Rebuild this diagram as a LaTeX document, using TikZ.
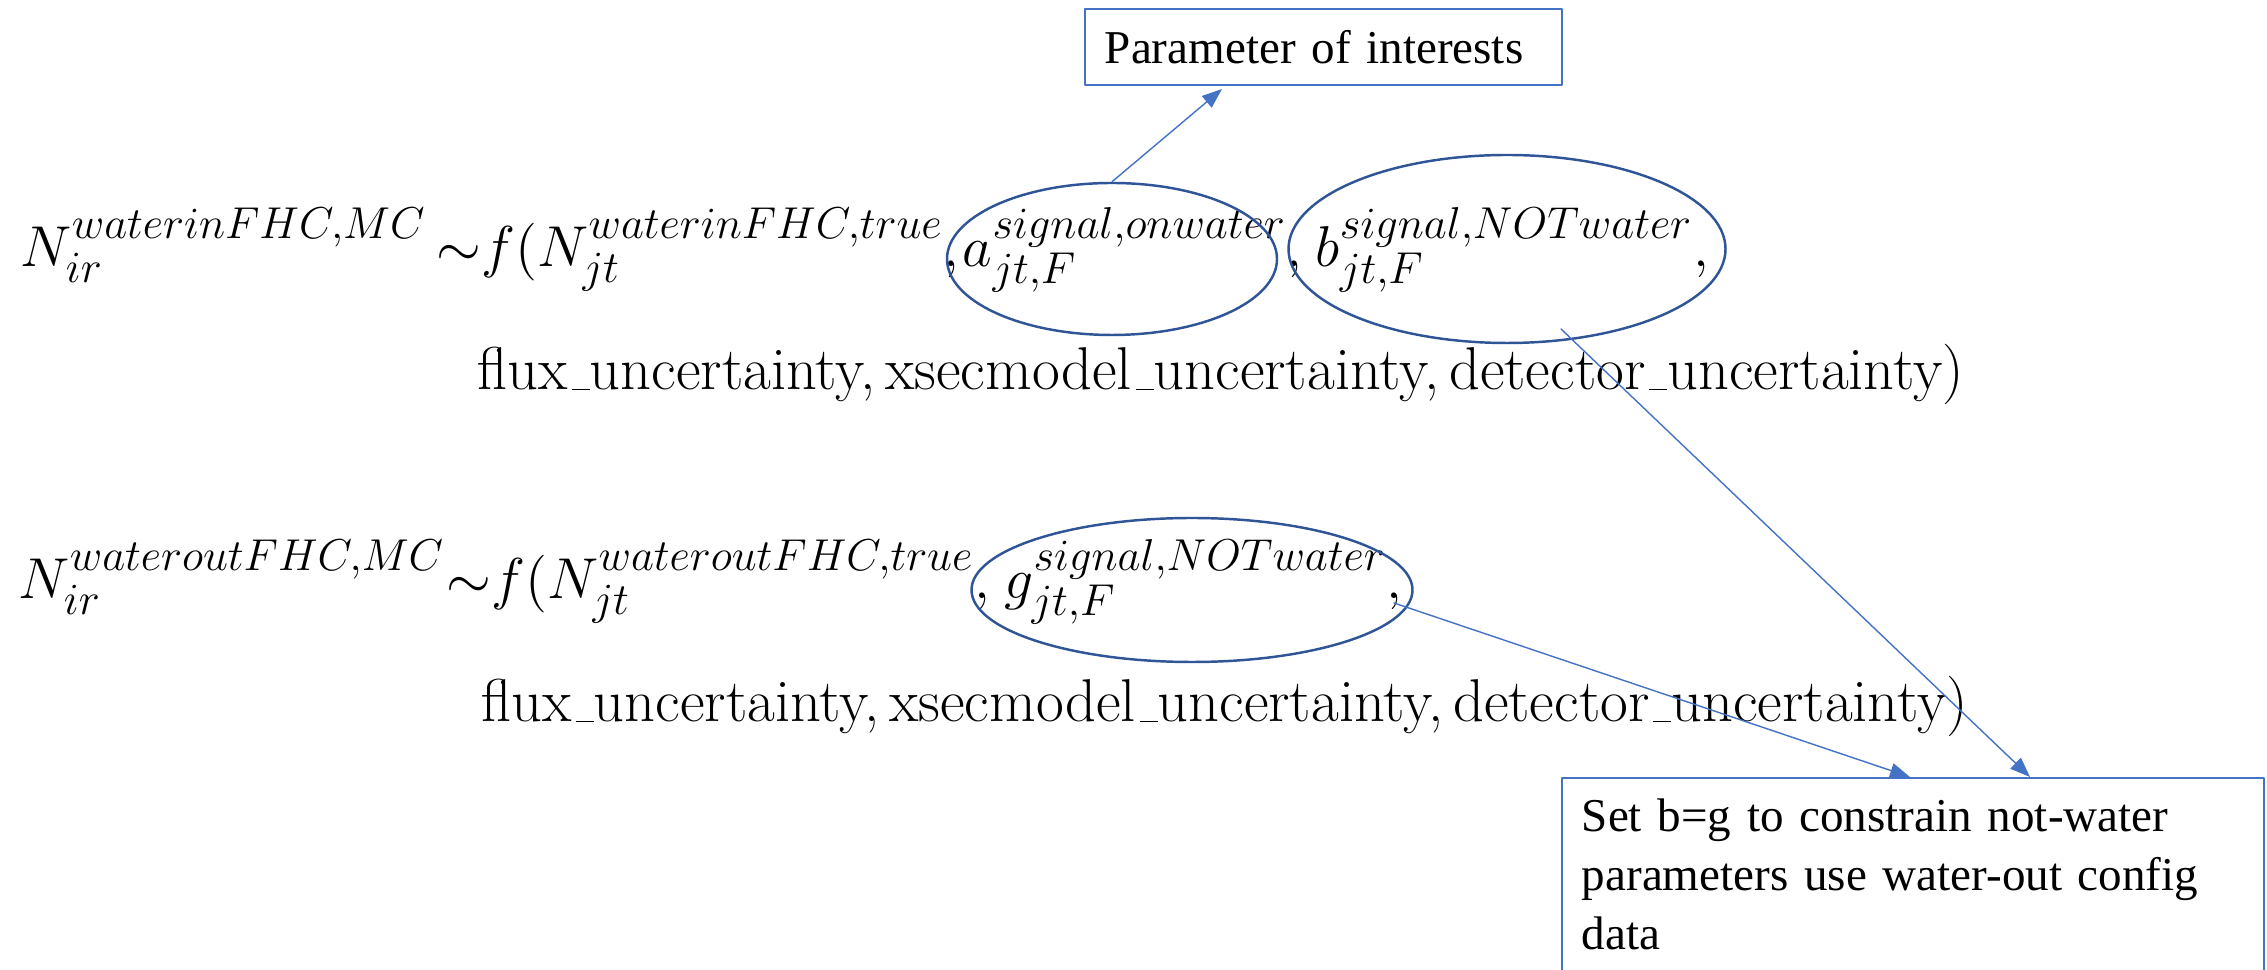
\RequirePackage{fix-cm}
\documentclass[tikz,border=0pt]{standalone}
\usepackage{fontspec}
\usetikzlibrary{arrows.meta,shapes.geometric}
\newfontfamily\boxfont{Liberation Serif}
\DeclareMathSizes{16.4}{16.4}{12.7}{10}
\newcommand\usc{\kern.06em\vbox{\hrule width.3em}}
\definecolor{arrowblue}{HTML}{4472C4}
\definecolor{ringblue}{HTML}{2F5597}
\begin{document}
\begin{tikzpicture}[line join=round, line cap=round, x=0.1mm, y=-0.1mm,
	eqn/.style={anchor=base west, inner sep=0pt, font=\fontsize{16.4}{20}\selectfont},
	unc/.style={anchor=base west, inner sep=0pt, font=\fontsize{17.2}{20}\selectfont},
	ring/.style={draw=ringblue, ellipse, line width=0.7pt, inner sep=0pt},
	note/.style={draw=arrowblue, line width=0.5pt, anchor=north west, align=left, inner xsep=2mm, inner ysep=6pt, font=\boxfont\fontsize{13.4}{16.8}\selectfont},
	link/.style={draw=arrowblue, line width=0.4pt, -{Triangle[length=2mm,width=1.5mm]}}]
	\clip (0,0) rectangle (2267,970);
	% water-in configuration
	\node[eqn] (Nin) at (20,267) {$N_{ir}^{waterinFHC,MC}$};
	\node[eqn] (fin) at (436,267) {${\sim}f(N_{jt}^{waterinFHC,true},$};
	\node[eqn] (aterm) at ([xshift=0.2mm]fin.base east) {$a_{jt,F}^{signal,onwater},$};
	\node[eqn] (bterm) at ([xshift=1.2mm]aterm.base east) {$b_{jt,F}^{signal,NOTwater},$};
	\node[unc] (uncin) at (477,390) {flux\usc uncertainty,\,xsecmodel\usc uncertainty,\,detector\usc uncertainty)};
	% water-out configuration
	\node[eqn] (Nout) at (18,599) {$N_{ir}^{wateroutFHC,MC}$};
	\node[eqn] (fout) at (446,599) {${\sim}f(N_{jt}^{wateroutFHC,true},$};
	\node[eqn] (gterm) at ([xshift=1.3mm]fout.base east) {$g_{jt,F}^{signal,NOTwater},$};
	\node[unc] (uncout) at (481,722) {flux\usc uncertainty,\,xsecmodel\usc uncertainty,\,detector\usc uncertainty)};
	% rings round the parameters
	\node[ring, minimum width=33mm, minimum height=15.2mm] (ringa) at (1112,259) {};
	\node[ring, minimum width=43.7mm, minimum height=18.8mm] (ringb) at (1507,249) {};
	\node[ring, minimum width=44.1mm, minimum height=14.4mm] (ringg) at (1192,590) {};
	% notes
	\node[note, text width=43.7mm] (poi) at (1084,8) {Parameter of interests};
	\node[note, text width=66.2mm, text depth=15mm] (setbg) at (1561,777) {Set b=g to constrain not-water\\parameters use water-out config\\data};
	\coordinate (atip) at (1222,89);
	\coordinate (bfoot) at (1561,329);
	\coordinate (btip) at (2030,777);
	\coordinate (gfoot) at (1394,603);
	\coordinate (gtip) at (1910,777);
	\draw[link] (ringa.north) -- (atip);
	\draw[link] (bfoot) -- (btip);
	\draw[link] (gfoot) -- (gtip);
\end{tikzpicture}
\end{document}
